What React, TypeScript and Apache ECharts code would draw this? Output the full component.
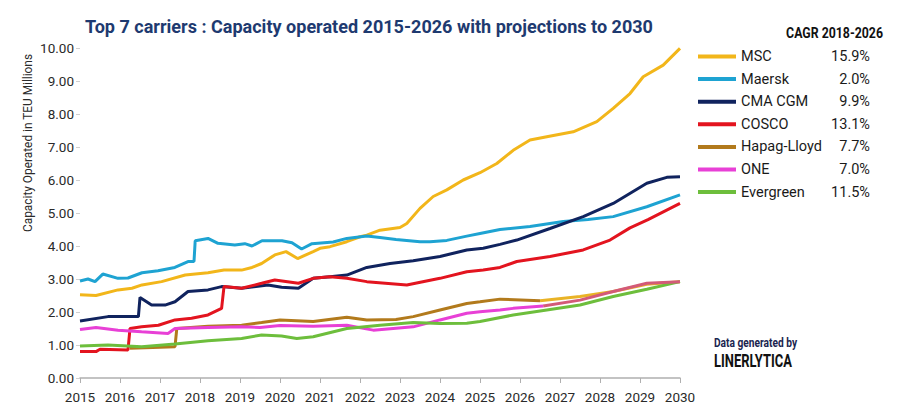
import React, { useEffect, useRef } from "react";
import * as echarts from "echarts";

const NAMES = ["MSC", "Maersk", "CMA CGM", "COSCO", "Hapag-Lloyd", "ONE", "Evergreen"];
const CAGR = ["15.9%", "2.0%", "9.9%", "13.1%", "7.7%", "7.0%", "11.5%"];
const COLORS = ["#F2B61A", "#1EA3D2", "#10235E", "#E3141F", "#B27A1C", "#E840D6", "#6DBE3C"];
const PROJ_COLORS = { hapag: "#E9B326", one: "#D35A78" };
const X_TICKS = [2015, 2016, 2017, 2018, 2019, 2020, 2021, 2022, 2023, 2024, 2025, 2026, 2027, 2028, 2029, 2030];

const msc: [number, number][] = [
  [2015, 2.52], [2015.4, 2.5], [2015.95, 2.67], [2016.3, 2.72], [2016.55, 2.82], [2017.04, 2.92],
  [2017.63, 3.12], [2018.2, 3.19], [2018.6, 3.27], [2019.04, 3.27], [2019.3, 3.35], [2019.54, 3.47],
  [2019.87, 3.73], [2020.15, 3.83], [2020.44, 3.62], [2020.83, 3.83], [2021.0, 3.93], [2021.25, 3.98],
  [2021.67, 4.13], [2022.0, 4.28], [2022.17, 4.33], [2022.5, 4.48], [2023.0, 4.56], [2023.17, 4.68],
  [2023.5, 5.14], [2023.83, 5.5], [2024.17, 5.7], [2024.58, 6.0], [2025.0, 6.22], [2025.42, 6.5],
  [2025.83, 6.9], [2026.25, 7.21], [2026.67, 7.31], [2027.33, 7.46], [2027.92, 7.77], [2028.33, 8.17],
  [2028.75, 8.62], [2029.08, 9.13], [2029.58, 9.48], [2030, 9.99],
];

const maersk: [number, number][] = [
  [2015, 2.94], [2015.2, 3.0], [2015.375, 2.92], [2015.57, 3.15], [2015.95, 3.02], [2016.2, 3.03],
  [2016.55, 3.19], [2016.95, 3.25], [2017.37, 3.35], [2017.7, 3.53], [2017.85, 3.53], [2017.88, 4.16],
  [2018.2, 4.23], [2018.45, 4.08], [2018.87, 4.03], [2019.12, 4.07], [2019.3, 4.0], [2019.55, 4.16],
  [2020.05, 4.16], [2020.3, 4.1], [2020.54, 3.91], [2020.8, 4.07], [2021.33, 4.12], [2021.67, 4.23],
  [2022.17, 4.3], [2022.5, 4.26], [2022.9, 4.2], [2023.5, 4.13], [2023.75, 4.13], [2024.17, 4.17],
  [2024.67, 4.3], [2025.0, 4.38], [2025.5, 4.5], [2026.25, 4.59], [2027.08, 4.74], [2027.7, 4.8],
  [2028.33, 4.89], [2029.17, 5.19], [2030, 5.55],
];

const cma: [number, number][] = [
  [2015, 1.73], [2015.7, 1.86], [2016.0, 1.86], [2016.46, 1.86], [2016.5, 2.44], [2016.79, 2.21],
  [2017.125, 2.21], [2017.375, 2.31], [2017.7, 2.62], [2018.2, 2.67], [2018.54, 2.77], [2019.04, 2.72],
  [2019.7, 2.82], [2020.04, 2.75], [2020.46, 2.72], [2020.83, 3.02], [2021.25, 3.07], [2021.67, 3.12],
  [2022.17, 3.35], [2022.75, 3.47], [2023.33, 3.55], [2024.0, 3.68], [2024.67, 3.88], [2025.08, 3.93],
  [2025.5, 4.05], [2025.92, 4.18], [2026.75, 4.53], [2027.58, 4.89], [2028.33, 5.29], [2029.17, 5.9],
  [2029.67, 6.08], [2030, 6.1],
];

const cosco: [number, number][] = [
  [2015, 0.8], [2015.4, 0.8], [2015.5, 0.87], [2016.2, 0.85], [2016.25, 1.5], [2016.54, 1.55],
  [2016.96, 1.6], [2017.375, 1.76], [2017.79, 1.81], [2018.2, 1.91], [2018.54, 2.11], [2018.6, 2.77],
  [2019.04, 2.72], [2019.54, 2.87], [2019.87, 2.97], [2020.46, 2.87], [2020.83, 3.02], [2021.25, 3.07],
  [2021.67, 3.02], [2022.17, 2.92], [2023.17, 2.82], [2024.0, 3.02], [2024.67, 3.22], [2025.08, 3.27],
  [2025.5, 3.35], [2025.92, 3.53], [2026.75, 3.68], [2027.58, 3.88], [2028.25, 4.18], [2028.75, 4.55],
  [2029.2, 4.8], [2030, 5.29],
];

const hapag: [number, number][] = [
  [2016.25, 0.9], [2017.375, 0.95], [2017.42, 1.5], [2018.2, 1.57], [2019.04, 1.6], [2019.54, 1.68],
  [2020.0, 1.76], [2020.83, 1.71], [2021.67, 1.84], [2022.17, 1.76], [2022.9, 1.77], [2023.33, 1.86],
  [2024.0, 2.06], [2024.67, 2.26], [2025.0, 2.31], [2025.5, 2.39], [2026.5, 2.34],
];
const hapagProj: [number, number][] = [
  [2026.5, 2.34], [2027.5, 2.47], [2028.33, 2.62], [2029.17, 2.84], [2030, 2.92],
];

const one: [number, number][] = [
  [2015, 1.47], [2015.4, 1.53], [2015.95, 1.45], [2016.54, 1.4], [2017.2, 1.35], [2017.375, 1.5],
  [2018.2, 1.53], [2019.04, 1.55], [2019.5, 1.53], [2020.0, 1.59], [2020.83, 1.57], [2021.67, 1.6],
  [2022.33, 1.45], [2023.33, 1.55], [2024.0, 1.76], [2024.67, 1.96], [2025.0, 2.01], [2025.5, 2.06],
  [2025.83, 2.11], [2026.58, 2.18],
];
const oneProj: [number, number][] = [
  [2026.58, 2.18], [2027.5, 2.36], [2028.33, 2.62], [2029.17, 2.87], [2030, 2.92],
];

const evergreen: [number, number][] = [
  [2015, 0.97], [2015.7, 1.0], [2016.54, 0.95], [2017.375, 1.03], [2018.2, 1.13], [2019.04, 1.2],
  [2019.54, 1.3], [2020.04, 1.27], [2020.42, 1.2], [2020.83, 1.25], [2021.67, 1.5], [2022.5, 1.6],
  [2023.33, 1.68], [2024.0, 1.65], [2024.67, 1.66], [2025.0, 1.71], [2025.83, 1.91], [2026.67, 2.06],
  [2027.5, 2.21], [2028.33, 2.47], [2029.17, 2.69], [2030, 2.92],
];

const SERIES_DATA = [msc, maersk, cma, cosco, hapag, one, evergreen];
const FONT = "Roboto, 'Noto Sans', sans-serif";

export default function App() {
  const ref = useRef<HTMLDivElement>(null);
  useEffect(() => {
    if (!ref.current) return;
    const chart = echarts.init(ref.current, undefined, { renderer: "svg" });
    const lineSeries: any[] = NAMES.map((name, i) => ({
      name,
      type: "line",
      data: SERIES_DATA[i],
      showSymbol: false,
      symbol: "none",
      color: COLORS[i],
      lineStyle: { width: 3, color: COLORS[i] },
      z: 2 + i,
    }));
    lineSeries.push({
      name: "Hapag-Lloyd projection",
      type: "line",
      data: hapagProj,
      showSymbol: false,
      symbol: "none",
      color: PROJ_COLORS.hapag,
      lineStyle: { width: 3, color: PROJ_COLORS.hapag },
      z: 7,
    });
    lineSeries.push({
      name: "ONE projection",
      type: "line",
      data: oneProj,
      showSymbol: false,
      symbol: "none",
      color: PROJ_COLORS.one,
      lineStyle: { width: 3, color: PROJ_COLORS.one },
      z: 8,
    });
    chart.setOption({
      animation: false,
      backgroundColor: "#ffffff",
      textStyle: { fontFamily: FONT },
      grid: { left: 80, right: 220, top: 48, bottom: 41, containLabel: false },
      xAxis: {
        type: "value",
        min: 2015,
        max: 2030,
        interval: 1,
        axisLine: { show: true, lineStyle: { color: "#b0b0b0", width: 1.5 } },
        axisTick: { show: true, length: 5, lineStyle: { color: "#b0b0b0" } },
        splitLine: { show: false },
        axisLabel: {
          color: "#2a2a2a",
          fontSize: 13.5,
          margin: 12,
          fontFamily: FONT,
          formatter: (v: number) => (X_TICKS.includes(v) ? String(v) : ""),
        },
      },
      yAxis: {
        type: "value",
        min: 0,
        max: 10,
        interval: 1,
        axisLine: { show: false },
        axisTick: { show: true, length: 4, lineStyle: { color: "#d0d0d0" } },
        splitLine: { show: false },
        axisLabel: {
          color: "#2a2a2a",
          fontSize: 13.5,
          margin: 6,
          fontFamily: FONT,
          formatter: (v: number) => v.toFixed(2),
        },
      },
      legend: {
        data: NAMES,
        orient: "vertical",
        left: 698,
        top: 49,
        icon: "rect",
        itemWidth: 38,
        itemHeight: 4,
        itemGap: 7.6,
        selectedMode: false,
        formatter: (name: string) => `{n|${name}}{v|${CAGR[NAMES.indexOf(name)]}}`,
        textStyle: {
          rich: {
            n: { fontSize: 14.5, width: 87, color: "#1a1a1a", fontFamily: FONT, lineHeight: 18 },
            v: { fontSize: 14.5, width: 42, align: "right", color: "#1a1a1a", fontFamily: FONT, lineHeight: 18 },
          },
        },
        padding: [0, 0, 0, 0],
      },
      graphic: [
        {
          type: "text",
          x: 85,
          y: 27,
          scaleX: 0.95,
          style: {
            text: "Top 7 carriers : Capacity operated 2015-2026 with projections to 2030",
            fill: "#1E3A70",
            font: `bold 19px ${FONT}`,
            verticalAlign: "middle",
            align: "left",
          },
        },
        {
          type: "text",
          x: 883,
          y: 33,
          scaleX: 0.88,
          style: {
            text: "CAGR 2018-2026",
            fill: "#111111",
            font: `bold 14px ${FONT}`,
            verticalAlign: "middle",
            align: "right",
          },
        },
        {
          type: "text",
          x: 28,
          y: 143,
          rotation: Math.PI / 2,
          scaleX: 0.95,
          style: {
            text: "Capacity Operated in TEU Millions",
            fill: "#2a2a2a",
            font: `12.5px ${FONT}`,
            verticalAlign: "middle",
            align: "center",
          },
        },
        {
          type: "text",
          x: 714,
          y: 343,
          scaleX: 0.85,
          style: {
            text: "Data generated by",
            fill: "#1B2550",
            font: `bold 12px ${FONT}`,
            verticalAlign: "middle",
            align: "left",
          },
        },
        {
          type: "text",
          x: 714,
          y: 361,
          scaleX: 0.72,
          style: {
            text: "LINERLYTICA",
            fill: "#111111",
            font: `bold 18px ${FONT}`,
            verticalAlign: "middle",
            align: "left",
          },
        },
      ],
      series: lineSeries,
    });
    return () => chart.dispose();
  }, []);
  return (
    <div
      ref={ref}
      style={{ position: "fixed", left: 0, top: 0, width: 900, height: 419, background: "#fff" }}
    />
  );
}
